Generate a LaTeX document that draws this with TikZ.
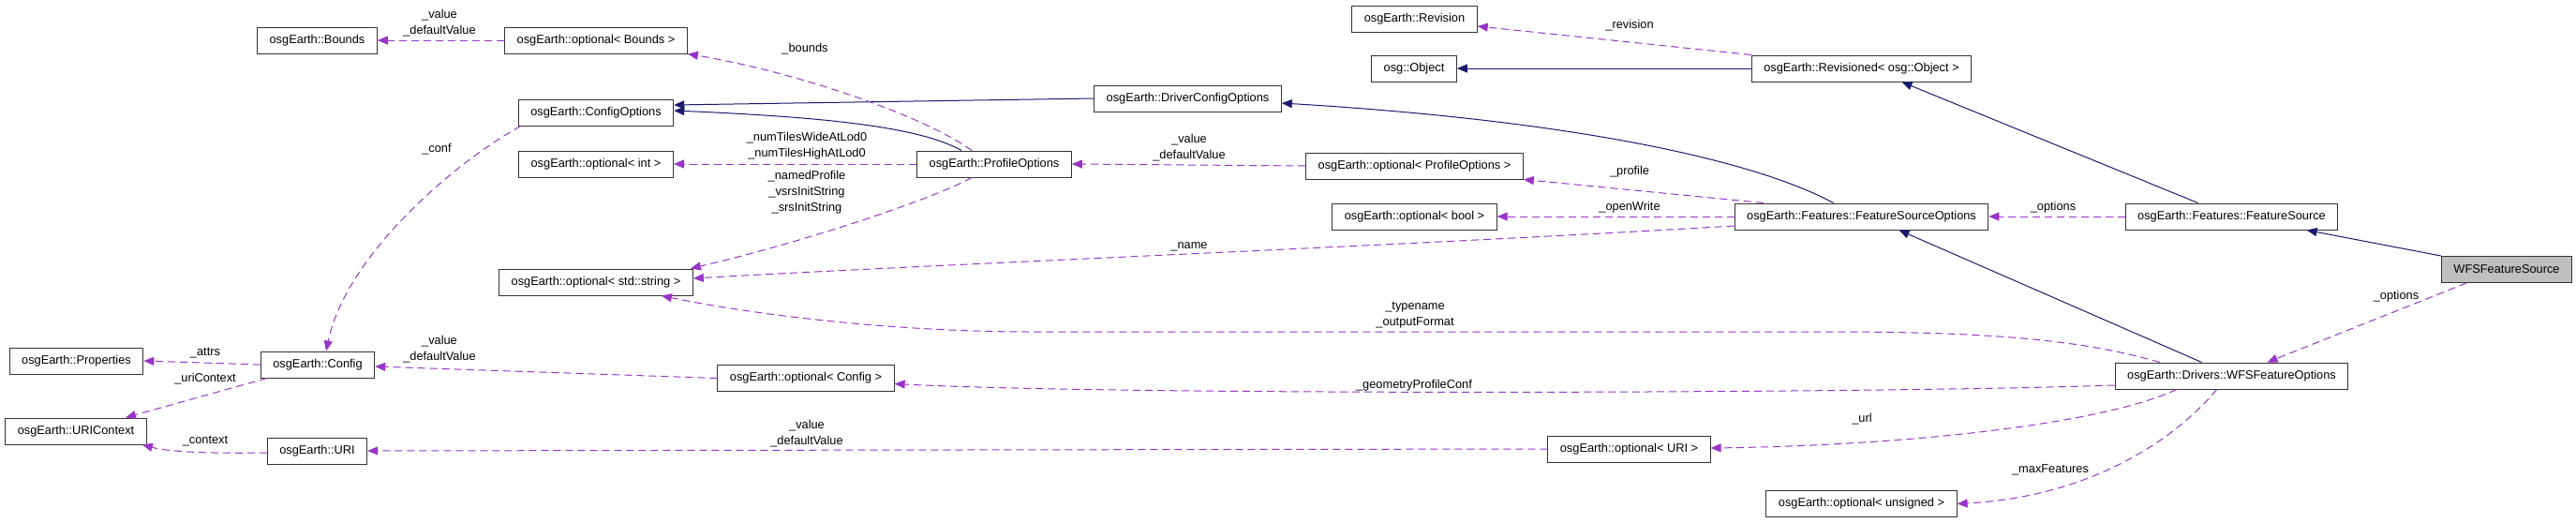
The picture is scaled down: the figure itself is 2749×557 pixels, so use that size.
\documentclass[tikz,border=0pt]{standalone}
\usepackage{fontspec}
\setmainfont{Liberation Sans}
\usetikzlibrary{arrows.meta,calc}
\definecolor{usecol}{HTML}{9A32CD}
\definecolor{inhcol}{HTML}{191970}

\begin{document}
\begin{tikzpicture}[
    x=1pt, y=-1pt,
    every node/.style={font=\fontsize{12.8}{17}\selectfont},
    cls/.style={draw=black!80, line width=1pt, fill=white, minimum height=28pt, inner xsep=13pt, inner ysep=0pt},
    main cls/.style={cls, fill=black!25},
    member/.style={inner sep=0pt, align=center},
    uses/.style={draw=usecol, line width=1pt, dash pattern=on 8pt off 5pt, -{Triangle[length=11pt,width=9pt]}},
    inherits/.style={draw=inhcol, line width=1pt, -{Triangle[length=11pt,width=9pt]}}
]
    \useasboundingbox (0,0) rectangle (2749,557);

    % classes
    \foreach \name/\x/\y/\txt in {
        bounds/338.5/43/{osgEarth::Bounds},
        opt-bounds/636/43/{osgEarth::optional< Bounds >},
        cfg-opts/636/120/{osgEarth::ConfigOptions},
        opt-int/636/175/{osgEarth::optional< int >},
        opt-string/636/301/{osgEarth::optional< std::string >},
        props/81.5/385/{osgEarth::Properties},
        config/339/389/{osgEarth::Config},
        uri-ctx/81/460/{osgEarth::URIContext},
        uri/338.5/481/{osgEarth::URI},
        drv-opts/1267.5/105/{osgEarth::DriverConfigOptions},
        prof-opts/1061/175/{osgEarth::ProfileOptions},
        opt-config/860/403.5/{osgEarth::optional< Config >},
        revision/1509.5/20/{osgEarth::Revision},
        osg-object/1509/73/{osg::Object},
        revisioned/1986.5/73/{osgEarth::Revisioned< osg::Object >},
        opt-prof/1509.5/177/{osgEarth::optional< ProfileOptions >},
        opt-bool/1509.5/231/{osgEarth::optional< bool >},
        fs-opts/1986.5/231/{osgEarth::Features::FeatureSourceOptions},
        opt-uri/1738.5/479/{osgEarth::optional< URI >},
        opt-unsigned/1986.5/537.5/{osgEarth::optional< unsigned >},
        fsource/2381.5/231/{osgEarth::Features::FeatureSource},
        wfs-opts/2381.5/401/{osgEarth::Drivers::WFSFeatureOptions}}
        \node[cls] (\name) at (\x,\y) {\txt};
    \node[main cls] (wfs-source) at (2675,287.5) {WFSFeatureSource};

    % inheritance
    \draw[inherits] (drv-opts.west) -- ($(cfg-opts.east)+(0,-8)$);
    \draw[inherits] ($(prof-opts.north)+(-35,0)$) .. controls (980,135) and (880,125) .. ($(cfg-opts.east)+(0,-2)$);
    \draw[inherits] ($(fs-opts.north)+(-30,0)$) .. controls (1880,175) and (1700,130) .. ($(drv-opts.east)+(0,5)$);
    \draw[inherits] (revisioned.west) -- (osg-object.east);
    \draw[inherits] ($(fsource.north)+(-36,0)$) -- ($(revisioned.south)+(43,0)$);
    \draw[inherits] (wfs-source.north west) -- ($(fsource.south)+(80,0)$);
    \draw[inherits] ($(wfs-opts.north)+(-32,0)$) -- ($(fs-opts.south)+(40,0)$);

    % members
    \draw[uses] (opt-bounds.west) -- (bounds.east);
    \draw[uses] ($(prof-opts.north)+(-24,0)$) .. controls (980,120) and (840,75) .. (opt-bounds.south east);
    \draw[uses] ($(cfg-opts.south west)+(3,0)$) .. controls (490,170) and (370,270) .. ($(config.north)+(9,0)$);
    \draw[uses] (prof-opts.west) -- (opt-int.east);
    \draw[uses] ($(prof-opts.south)+(-24,0)$) .. controls (990,215) and (850,260) .. ($(opt-string.north east)+(-3,0)$);
    \draw[uses] (opt-prof.west) -- (prof-opts.east);
    \draw[uses] ($(fs-opts.north west)+(31,0)$) -- (opt-prof.south east);
    \draw[uses] (fs-opts.west) -- (opt-bool.east);
    \draw[uses] ($(fs-opts.west)+(0,10)$) .. controls (1500,262) and (1000,282) .. ($(opt-string.east)+(0,-4)$);
    \draw[uses] ($(wfs-opts.north west)+(48,0)$) .. controls (2220,362) and (2120,354) .. (1950,354) -- (1100,354)
        .. controls (950,354) and (800,335) .. ($(opt-string.south east)+(-34,0)$);
    \draw[uses] (opt-config.west) -- ($(config.east)+(0,2)$);
    \draw[uses] ($(wfs-opts.west)+(0,10)$) .. controls (2000,420) and (1200,422) .. ($(opt-config.east)+(0,6)$);
    \draw[uses] (opt-uri.west) -- (uri.east);
    \draw[uses] ($(wfs-opts.south west)+(66,0)$) .. controls (2250,450) and (2050,475) .. ($(opt-uri.east)+(0,-1)$);
    \draw[uses] ($(wfs-opts.south west)+(109,0)$) .. controls (2320,470) and (2230,530) .. (opt-unsigned.east);
    \draw[uses] ($(wfs-source.south west)+(27,0)$) -- ($(wfs-opts.north)+(38,0)$);
    \draw[uses] (fsource.west) -- (fs-opts.east);
    \draw[uses] (revisioned.north west) -- ($(revision.east)+(0,8)$);
    \draw[uses] (config.west) -- (props.east);
    \draw[uses] ($(config.south west)+(7,0)$) -- ($(uri-ctx.north)+(53,0)$);
    \draw[uses] ($(uri.west)+(0,2)$) .. controls (220,484) and (180,482) .. ($(uri-ctx.south east)+(-5,0)$);

    % member names
    \node[member] (m-value-bounds) at (469,24.5) {\_value\\\_defaultValue};
    \node[member] (m-bounds) at (859,52) {\_bounds};
    \node[member] (m-conf) at (466,159) {\_conf};
    \node[member] (m-numtiles) at (861,156) {\_numTilesWideAtLod0\\\_numTilesHighAtLod0};
    \node[member] (m-strings) at (861,205) {\_namedProfile\\\_vsrsInitString\\\_srsInitString};
    \node[member] (m-value-prof) at (1269,158) {\_value\\\_defaultValue};
    \node[member] (m-name) at (1269,263) {\_name};
    \node[member] (m-typename) at (1510,336.5) {\_typename\\\_outputFormat};
    \node[member] (m-value-config) at (469,372.5) {\_value\\\_defaultValue};
    \node[member] (m-geom) at (1509,411) {\_geometryProfileConf};
    \node[member] (m-value-uri) at (861,463) {\_value\\\_defaultValue};
    \node[member] (m-url) at (1987,447) {\_url};
    \node[member] (m-maxfeat) at (2188,501) {\_maxFeatures};
    \node[member] (m-options-wfs) at (2557,316) {\_options};
    \node[member] (m-options-fs) at (2191,221) {\_options};
    \node[member] (m-revision) at (1739,27) {\_revision};
    \node[member] (m-profile) at (1739,183) {\_profile};
    \node[member] (m-openwrite) at (1739,221) {\_openWrite};
    \node[member] (m-attrs) at (219,377) {\_attrs};
    \node[member] (m-urictx) at (219,404) {\_uriContext};
    \node[member] (m-context) at (219,471) {\_context};
\end{tikzpicture}
\end{document}
